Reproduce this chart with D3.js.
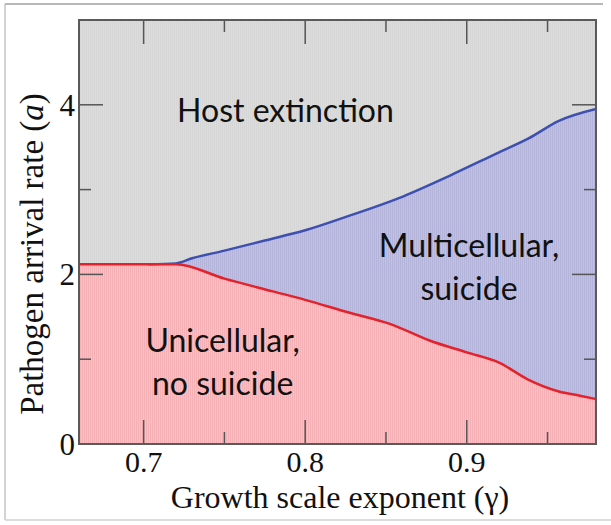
<!DOCTYPE html>
<html><head><meta charset="utf-8">
<script src="https://cdn.jsdelivr.net/npm/d3@7"></script>
<style>
html,body{margin:0;padding:0;background:#fff;}
svg{display:block;}
</style></head>
<body>
<script>
// ---- data ----
const xDomain = [0.66, 0.98];
const yDomain = [0, 5];
const xMajorTicks = [0.7, 0.8, 0.9];
const xMinorTicks = [0.75, 0.85, 0.95];
const yMajorTicks = [0, 2, 4];
const yMinorTicks = [1, 3];
const xTickLabels = ["0.7", "0.8", "0.9"];
const yTickLabels = ["0", "2", "4"];

// lower boundary (unicellular / multicellular), red
const gammaRed = [0.66, 0.70, 0.72, 0.75, 0.78, 0.80, 0.827, 0.852, 0.877, 0.90, 0.92, 0.938, 0.957, 0.97, 0.98];
const aRed     = [2.12, 2.12, 2.12, 1.95, 1.80, 1.70, 1.55, 1.42, 1.22, 1.08, 0.96, 0.76, 0.62, 0.57, 0.53];
// upper boundary (host extinction), blue
const gammaBlue = [0.703, 0.72, 0.73, 0.75, 0.775, 0.80, 0.827, 0.858, 0.889, 0.92, 0.938, 0.957, 0.98];
const aBlue     = [2.12, 2.13, 2.19, 2.28, 2.40, 2.52, 2.69, 2.90, 3.16, 3.44, 3.60, 3.81, 3.95];

const regionLabels = [
  {lines: ["Host extinction"], gx: 0.7878, ay: 3.80},
  {lines: ["Multicellular,", "suicide"], gx: 0.9014, ay: 2.2},
  {lines: ["Unicellular,", "no suicide"], gx: 0.7489, ay: 1.08}
];

// ---- layout ----
const W = 611, H = 525;
const m = {left: 79, right: 596, top: 20, bottom: 444};

const svg = d3.select("body").append("svg").attr("width", W).attr("height", H);

// outer frame
svg.append("line").attr("x1", 5).attr("x2", 5).attr("y1", 4).attr("y2", 520).attr("stroke", "#c4c4c4").attr("stroke-width", 1.5);
svg.append("line").attr("x1", 5).attr("x2", 603).attr("y1", 4).attr("y2", 4).attr("stroke", "#b8b8b8").attr("stroke-width", 2);
svg.append("line").attr("x1", 5).attr("x2", 611).attr("y1", 520).attr("y2", 520).attr("stroke", "#d0d0d0").attr("stroke-width", 1.5);

const x = d3.scaleLinear().domain(xDomain).range([m.left, m.right]);
const y = d3.scaleLinear().domain(yDomain).range([m.bottom, m.top]);

// patterns (fine vertical texture)
const defs = svg.append("defs");
function stripe(id, c1, c2) {
  const p = defs.append("pattern").attr("id", id).attr("patternUnits", "userSpaceOnUse")
    .attr("width", 2).attr("height", 2);
  p.append("rect").attr("width", 2).attr("height", 2).attr("fill", c1);
  p.append("rect").attr("width", 1).attr("height", 2).attr("fill", c2);
}
stripe("pGray", "#dcdcdc", "#d6d6d6");
stripe("pBlue", "#c1c1e5", "#b4b4db");
stripe("pRed", "#fbc0c3", "#f4b0b5");

const clip = defs.append("clipPath").attr("id", "plotclip");
clip.append("rect").attr("x", m.left).attr("y", m.top).attr("width", m.right - m.left).attr("height", m.bottom - m.top);

const g = svg.append("g").attr("clip-path", "url(#plotclip)");
g.append("rect").attr("x", m.left).attr("y", m.top).attr("width", m.right - m.left).attr("height", m.bottom - m.top)
  .attr("fill", "url(#pGray)");

const blueData = gammaBlue.map((v, i) => [v, aBlue[i]]);
const redData = gammaRed.map((v, i) => [v, aRed[i]]);

const area = d3.area().curve(d3.curveMonotoneX).x(d => x(d[0])).y0(y(0)).y1(d => y(d[1]));
const line = d3.line().curve(d3.curveMonotoneX).x(d => x(d[0])).y(d => y(d[1]));

g.append("path").datum(blueData).attr("d", area).attr("fill", "url(#pBlue)");
g.append("path").datum(redData).attr("d", area).attr("fill", "url(#pRed)");
g.append("path").datum(blueData).attr("d", line).attr("fill", "none").attr("stroke", "#3d50b0").attr("stroke-width", 2.5);
g.append("path").datum(redData).attr("d", line).attr("fill", "none").attr("stroke", "#e3222c").attr("stroke-width", 2.5);

// ticks
const tk = svg.append("g").attr("stroke", "#555").attr("stroke-width", 1.5);
function xt(vals, len) {
  vals.forEach(v => {
    tk.append("line").attr("x1", x(v)).attr("x2", x(v)).attr("y1", m.bottom).attr("y2", m.bottom - len);
    tk.append("line").attr("x1", x(v)).attr("x2", x(v)).attr("y1", m.top).attr("y2", m.top + len);
  });
}
function yt(vals, len) {
  vals.forEach(v => {
    tk.append("line").attr("y1", y(v)).attr("y2", y(v)).attr("x1", m.left).attr("x2", m.left + len);
    tk.append("line").attr("y1", y(v)).attr("y2", y(v)).attr("x1", m.right).attr("x2", m.right - len);
  });
}
xt(xMajorTicks, 24); xt(xMinorTicks, 12);
yt(yMajorTicks, 24); yt(yMinorTicks, 12);

// frame
svg.append("rect").attr("x", m.left).attr("y", m.top).attr("width", m.right - m.left).attr("height", m.bottom - m.top)
  .attr("fill", "none").attr("stroke", "#5a5a5a").attr("stroke-width", 2);

// tick labels
const serif = "'Liberation Serif','DejaVu Serif',serif";
svg.selectAll("text.xl").data(xMajorTicks).enter().append("text")
  .attr("x", d => x(d)).attr("y", 472).attr("text-anchor", "middle")
  .attr("font-family", serif).attr("font-size", 30).attr("fill", "#111")
  .text((d, i) => xTickLabels[i]);
svg.selectAll("text.yl").data(yMajorTicks).enter().append("text")
  .attr("x", 75).attr("y", d => y(d) + 11).attr("text-anchor", "end")
  .attr("font-family", serif).attr("font-size", 31).attr("fill", "#111")
  .text((d, i) => yTickLabels[i]);

// axis titles
svg.append("text").attr("x", 340).attr("y", 508).attr("text-anchor", "middle")
  .attr("font-family", serif).attr("font-size", 32).attr("fill", "#111")
  .text("Growth scale exponent (γ)");
const yl = svg.append("text").attr("transform", `translate(43,254) rotate(-90)`).attr("text-anchor", "middle")
  .attr("font-family", serif).attr("font-size", 33).attr("fill", "#111");
yl.append("tspan").text("Pathogen arrival rate (");
yl.append("tspan").attr("font-style", "italic").text("a");
yl.append("tspan").text(")");

// region labels
const sans = "Lato,'Open Sans',sans-serif";
regionLabels.forEach(L => {
  const t = svg.append("text").attr("text-anchor", "middle").attr("font-family", sans)
    .attr("font-size", 32).attr("fill", "#111");
  L.lines.forEach((s, i) => {
    t.append("tspan").attr("x", x(L.gx)).attr("y", y(L.ay) + i * 43).text(s);
  });
});
</script>
</body></html>
